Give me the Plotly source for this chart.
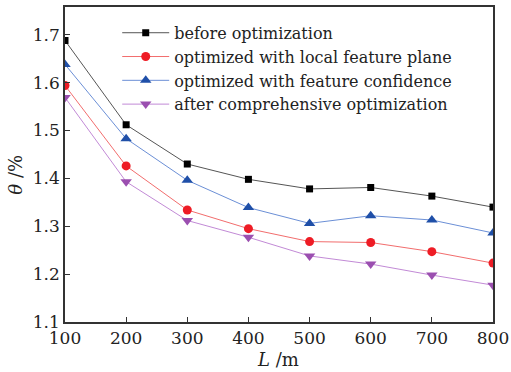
import plotly.graph_objects as go

L = [100, 200, 300, 400, 500, 600, 700, 800]
before = [1.688, 1.512, 1.430, 1.398, 1.378, 1.381, 1.363, 1.340]
local_plane = [1.594, 1.426, 1.334, 1.295, 1.268, 1.266, 1.247, 1.223]
confidence = [1.638, 1.483, 1.396, 1.339, 1.306, 1.322, 1.313, 1.286]
comprehensive = [1.569, 1.393, 1.312, 1.277, 1.238, 1.221, 1.198, 1.177]
y_ticks = [1.1, 1.2, 1.3, 1.4, 1.5, 1.6, 1.7]

names = ["before optimization", "optimized with local feature plane",
         "optimized with feature confidence", "after comprehensive optimization"]
series = [before, local_plane, confidence, comprehensive]
line_colors = ["#555555", "#f26d6d", "#6b8fd6", "#c28ad6"]
marker_colors = ["#000000", "#ee1c25", "#1f4fa8", "#9b4fb0"]
symbols = ["square", "circle", "triangle-up", "triangle-down"]
sizes = [7, 9, 10, 10]

fig = go.Figure()
for n, s, lc, mc, sym, sz in zip(names, series, line_colors, marker_colors, symbols, sizes):
    fig.add_trace(go.Scatter(x=L, y=s, name=n, mode="lines+markers",
                             line=dict(color=lc, width=1),
                             marker=dict(symbol=sym, size=sz, color=mc)))

font = "DejaVu Serif"
fig.update_layout(
    template="none",
    width=511, height=372,
    margin=dict(l=65, r=18, t=7, b=50),
    paper_bgcolor="white", plot_bgcolor="white",
    font=dict(family=font, color="#222", size=16),
    showlegend=True,
    legend=dict(x=0.122, y=0.972, xanchor="left", yanchor="top",
                bgcolor="rgba(0,0,0,0)", borderwidth=0, itemwidth=47,
                font=dict(size=16, family=font, color="#222"),
                tracegroupgap=0),
    annotations=[
        dict(text="<i>L</i> /m", x=0.498, xref="paper", y=-0.118, yref="paper",
             xanchor="center", yanchor="middle", showarrow=False,
             font=dict(size=18, family=font, color="#222")),
        dict(text="<i>θ</i> /%", x=-0.115, xref="paper", y=0.467, yref="paper",
             xanchor="center", yanchor="middle", showarrow=False, textangle=-90,
             font=dict(size=18, family=font, color="#222")),
    ],
)
fig.update_xaxes(range=[100, 800], tickvals=L, ticks="inside", ticklen=5,
                 tickcolor="#333", automargin=False,
                 showline=True, linecolor="#333", linewidth=1.5, mirror=True,
                 showgrid=False, zeroline=False,
                 tickfont=dict(size=17, family=font, color="#222"))
fig.update_yaxes(range=[1.1, 1.758], tickvals=y_ticks,
                 ticktext=[f"{v:.1f}" for v in y_ticks],
                 ticks="inside", ticklen=5, tickcolor="#333", automargin=False,
                 showline=True, linecolor="#333", linewidth=1.5, mirror=True,
                 showgrid=False, zeroline=False,
                 tickfont=dict(size=17, family=font, color="#222"))
fig.write_html("out.html", config={"displayModeBar": False},
               post_script="document.body.style.margin='0';")
